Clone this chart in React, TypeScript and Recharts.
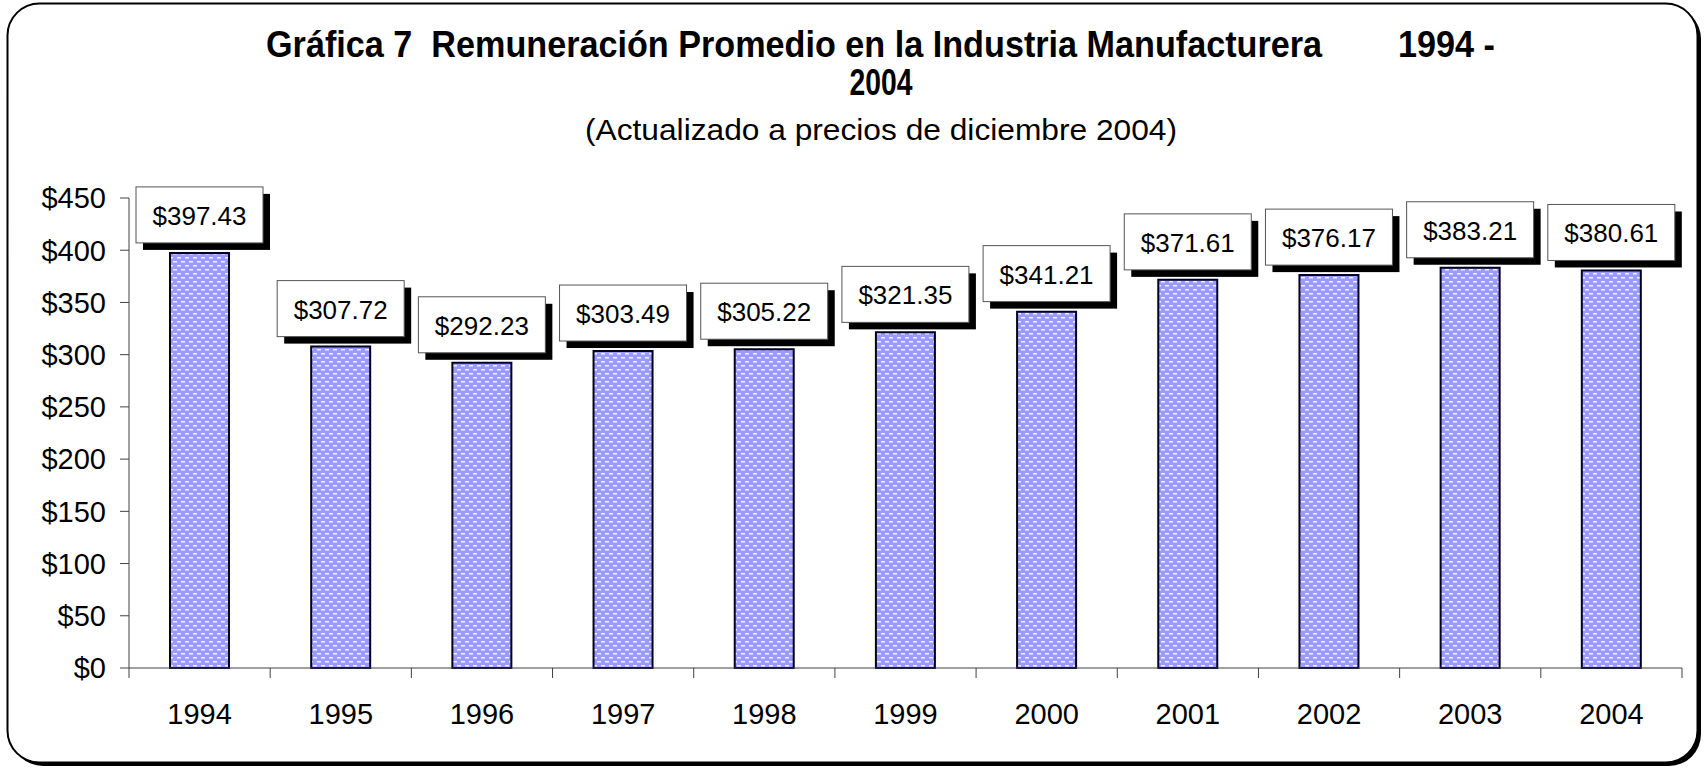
import { BarChart, Bar, XAxis, YAxis, LabelList } from "recharts";

// Remuneración promedio, pesos de diciembre 2004
const years = ["1994", "1995", "1996", "1997", "1998", "1999", "2000", "2001", "2002", "2003", "2004"];
const remuneracion = [397.43, 307.72, 292.23, 303.49, 305.22, 321.35, 341.21, 371.61, 376.17, 383.21, 380.61];
const yTicks = [0, 50, 100, 150, 200, 250, 300, 350, 400, 450];

const tituloLinea1 = "Gráfica 7  Remuneración Promedio en la Industria Manufacturera        1994 -";
const tituloLinea2 = "2004";
const subtitulo = "(Actualizado a precios de diciembre 2004)";

const data = years.map((year, i) => ({ year, valor: remuneracion[i] }));

const W = 1705;
const H = 772;
const plotLeft = 129;
const plotRight = 1682;
const plotTop = 198;
const plotBottom = 668;
const step = (plotRight - plotLeft) / years.length;
const font = "'Liberation Sans', Arial, sans-serif";

// tick de categoría estilo Excel: marcas en los límites entre años
const YearTick = (props: any) => {
  const { x, y, payload, index } = props;
  const isLast = index === years.length - 1;
  return (
    <g>
      <line x1={x - step / 2} x2={x - step / 2} y1={y} y2={y + 10} stroke="#404040" />
      {isLast && <line x1={x + step / 2} x2={x + step / 2} y1={y} y2={y + 10} stroke="#404040" />}
      <text x={x} y={y + 56} textAnchor="middle" fontSize={29} fontFamily={font} fill="#000">
        {payload.value}
      </text>
    </g>
  );
};

// etiqueta con caja y sombra negra
const BoxLabel = (props: any) => {
  const { x, y, width, value } = props;
  const cx = x + width / 2;
  const bw = 127;
  const bh = 56;
  const top = y - 10 - bh;
  return (
    <g>
      <rect x={cx - bw / 2 + 7} y={top + 7} width={bw} height={bh} fill="#000" />
      <rect x={cx - bw / 2} y={top} width={bw} height={bh} fill="#fff" stroke="#555" strokeWidth={1} />
      <text
        x={cx}
        y={top + bh / 2 + 1}
        textAnchor="middle"
        dominantBaseline="central"
        fontSize={26}
        fontFamily={font}
        fill="#000"
      >
        {`$${Number(value).toFixed(2)}`}
      </text>
    </g>
  );
};

export default function App() {
  return (
    <div style={{ position: "absolute", left: 0, top: 0, width: W, height: H, background: "#fff" }}>
      <svg width={W} height={H} style={{ position: "absolute", left: 0, top: 0 }}>
        <rect x={11} y={7} width={1690} height={759} rx={32} fill="#000" />
        <rect x={7.5} y={3.5} width={1690} height={759} rx={32} fill="#fff" stroke="#000" strokeWidth={2} />
        <text
          x={266}
          y={57}
          fontSize={36}
          fontWeight="bold"
          fontFamily={font}
          textLength={1229}
          lengthAdjust="spacingAndGlyphs"
          style={{ whiteSpace: "pre" }}
        >
          {tituloLinea1}
        </text>
        <text
          x={881}
          y={95}
          textAnchor="middle"
          fontSize={36}
          fontWeight="bold"
          fontFamily={font}
          textLength={63}
          lengthAdjust="spacingAndGlyphs"
        >
          {tituloLinea2}
        </text>
        <text
          x={585}
          y={140}
          fontSize={30}
          fontFamily={font}
          textLength={592}
          lengthAdjust="spacingAndGlyphs"
        >
          {subtitulo}
        </text>
      </svg>
      <div style={{ position: "absolute", left: 0, top: 0 }}>
        <BarChart
          width={W}
          height={H}
          data={data}
          margin={{ top: plotTop, right: W - plotRight, left: plotLeft - 80, bottom: H - plotBottom - 60 }}
        >
          <defs>
            <pattern id="puntos" width={8} height={8} patternUnits="userSpaceOnUse">
              <rect width={8} height={8} fill="#9a9aff" />
              <rect x={1} y={1} width={4} height={1.5} fill="#ffffff" opacity={0.85} />
              <rect x={5} y={5} width={3} height={1.5} fill="#ffffff" opacity={0.85} />
              <rect x={0} y={5} width={1} height={1.5} fill="#ffffff" opacity={0.85} />
            </pattern>
          </defs>
          <XAxis
            dataKey="year"
            height={60}
            interval={0}
            tickLine={false}
            tickSize={0}
            tickMargin={0}
            axisLine={{ stroke: "#404040" }}
            tick={<YearTick />}
          />
          <YAxis
            width={80}
            domain={[0, 450]}
            ticks={yTicks}
            interval={0}
            tickSize={9}
            tickMargin={14}
            tickFormatter={(v: number) => `$${v}`}
            tick={{ fontSize: 29, fontFamily: font, fill: "#000" }}
            axisLine={{ stroke: "#404040" }}
            tickLine={{ stroke: "#404040" }}
          />
          <Bar
            dataKey="valor"
            barSize={59}
            fill="url(#puntos)"
            stroke="#000022"
            strokeWidth={2}
            isAnimationActive={false}
          >
            <LabelList dataKey="valor" content={<BoxLabel />} />
          </Bar>
        </BarChart>
      </div>
    </div>
  );
}
